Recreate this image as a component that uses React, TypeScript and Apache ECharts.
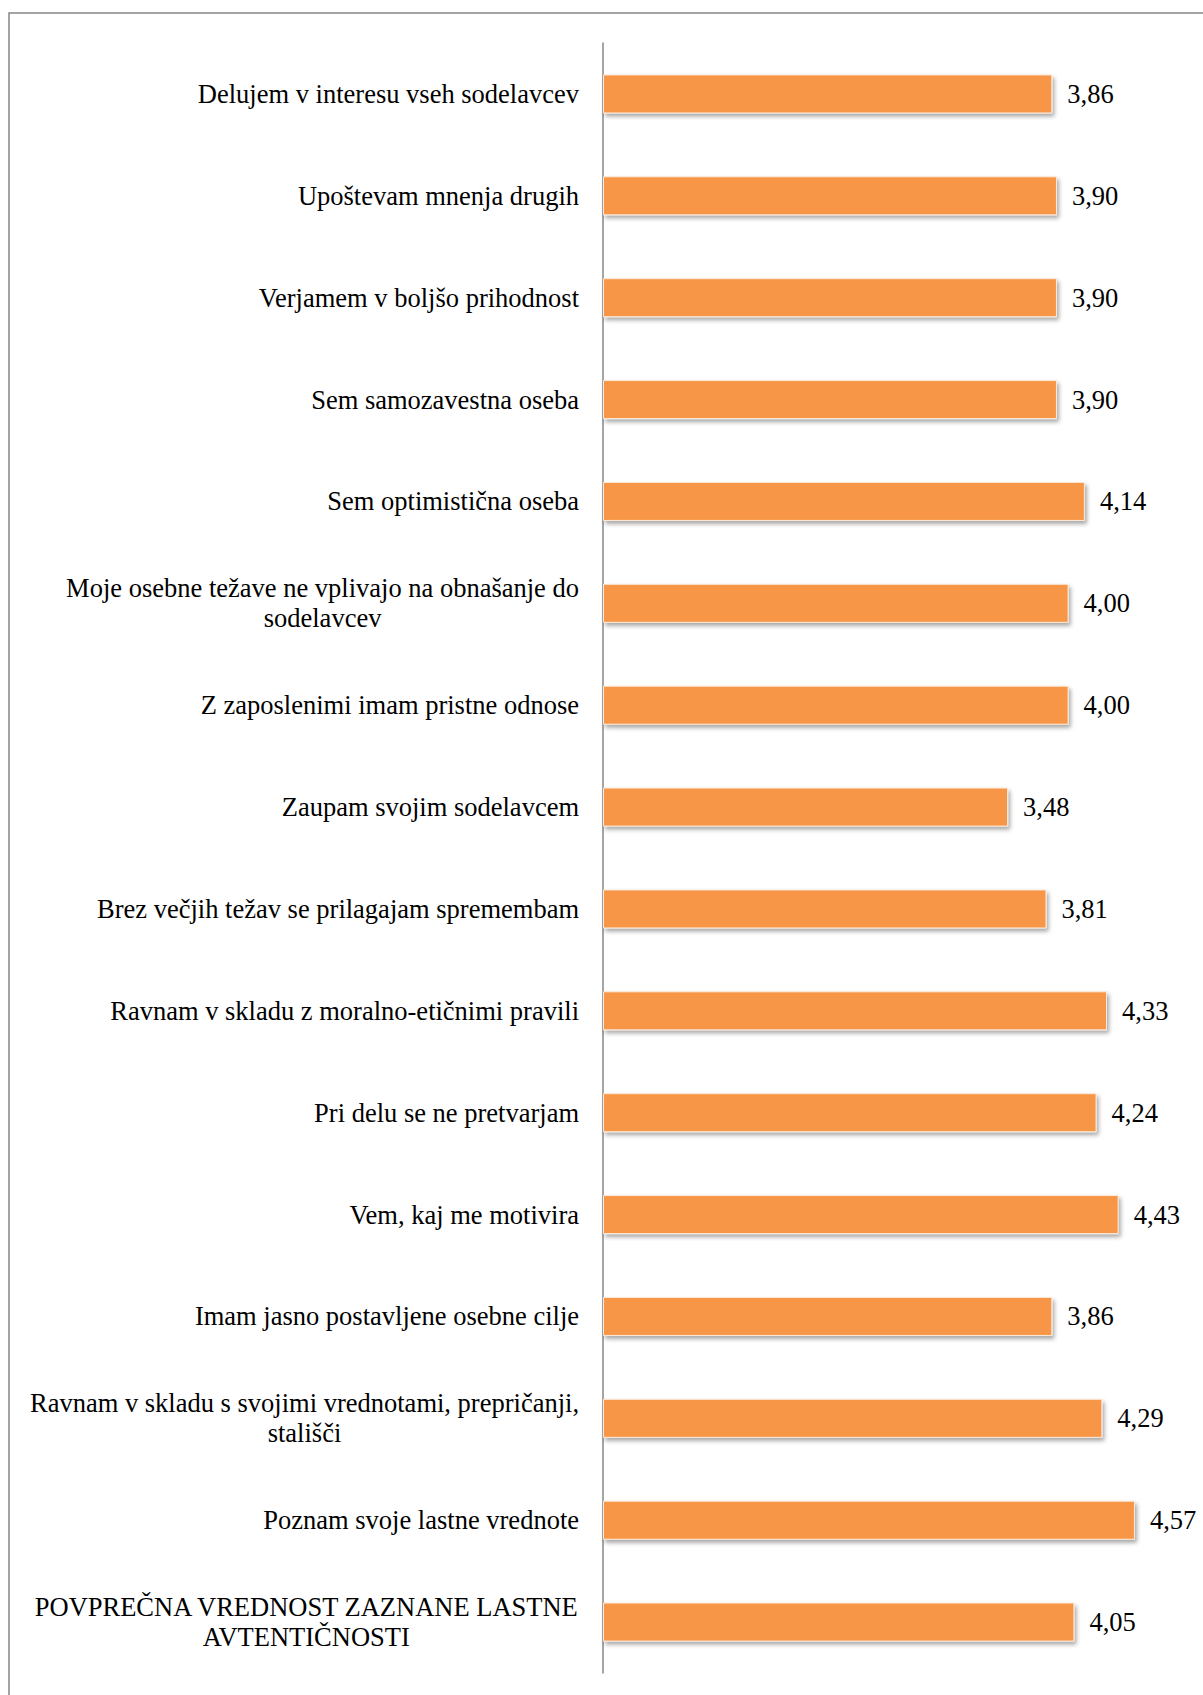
import React, { useEffect, useRef } from "react";
import * as echarts from "echarts";

const categories: string[] = [
  "Delujem v interesu vseh sodelavcev",
  "Upoštevam mnenja drugih",
  "Verjamem v boljšo prihodnost",
  "Sem samozavestna oseba",
  "Sem optimistična oseba",
  "Moje osebne težave ne vplivajo na obnašanje do\nsodelavcev",
  "Z zaposlenimi imam pristne odnose",
  "Zaupam svojim sodelavcem",
  "Brez večjih težav se prilagajam spremembam",
  "Ravnam v skladu z moralno-etičnimi pravili",
  "Pri delu se ne pretvarjam",
  "Vem, kaj me motivira",
  "Imam jasno postavljene osebne cilje",
  "Ravnam v skladu s svojimi vrednotami, prepričanji,\nstališči",
  "Poznam svoje lastne vrednote",
  "POVPREČNA VREDNOST ZAZNANE LASTNE\nAVTENTIČNOSTI",
];

const values: number[] = [
  3.86, 3.9, 3.9, 3.9, 4.14, 4.0, 4.0, 3.48, 3.81, 4.33, 4.24, 4.43, 3.86, 4.29, 4.57, 4.05,
];

const FONT = "'Liberation Serif', 'Times New Roman', serif";

export default function App() {
  const ref = useRef<HTMLDivElement>(null);
  useEffect(() => {
    if (!ref.current) return;
    const chart = echarts.init(ref.current, undefined, { renderer: "svg" });
    chart.setOption({
      animation: false,
      backgroundColor: "#ffffff",
      graphic: [
        {
          type: "rect",
          shape: { x: 9, y: 13, width: 1230, height: 1720 },
          style: { fill: "none", stroke: "#878787", lineWidth: 1.5 },
          silent: true,
        },
      ],
      grid: { left: 603, top: 43, width: 582, height: 1630, containLabel: false },
      xAxis: {
        type: "value",
        min: 0,
        max: 5,
        show: false,
        splitLine: { show: false },
      },
      yAxis: {
        type: "category",
        data: categories,
        inverse: true,
        axisLine: { show: true, lineStyle: { color: "#878787", width: 1.5 } },
        axisTick: { show: false },
        axisLabel: {
          margin: 24,
          align: "right",
          formatter: (v: string) =>
            v
              .split("\n")
              .map((l) => `{c|${l}}`)
              .join("\n"),
          rich: {
            c: {
              fontFamily: FONT,
              fontSize: 26.5,
              lineHeight: 30,
              color: "#000000",
              align: "center",
            },
          },
        },
      },
      series: [
        {
          type: "bar",
          data: values,
          barWidth: 39,
          itemStyle: {
            color: "#F79646",
            borderColor: "#fde9d9",
            borderWidth: 1,
            shadowColor: "rgba(0,0,0,0.35)",
            shadowBlur: 4,
            shadowOffsetX: 2,
            shadowOffsetY: 3,
          },
          label: {
            show: true,
            position: "right",
            distance: 15,
            fontFamily: FONT,
            fontSize: 26.5,
            color: "#000000",
            formatter: (p: any) => p.value.toFixed(2).replace(".", ","),
          },
        },
      ],
    });
    return () => chart.dispose();
  }, []);
  return (
    <div
      ref={ref}
      style={{ position: "absolute", left: 0, top: 0, width: 1203, height: 1695 }}
    />
  );
}
